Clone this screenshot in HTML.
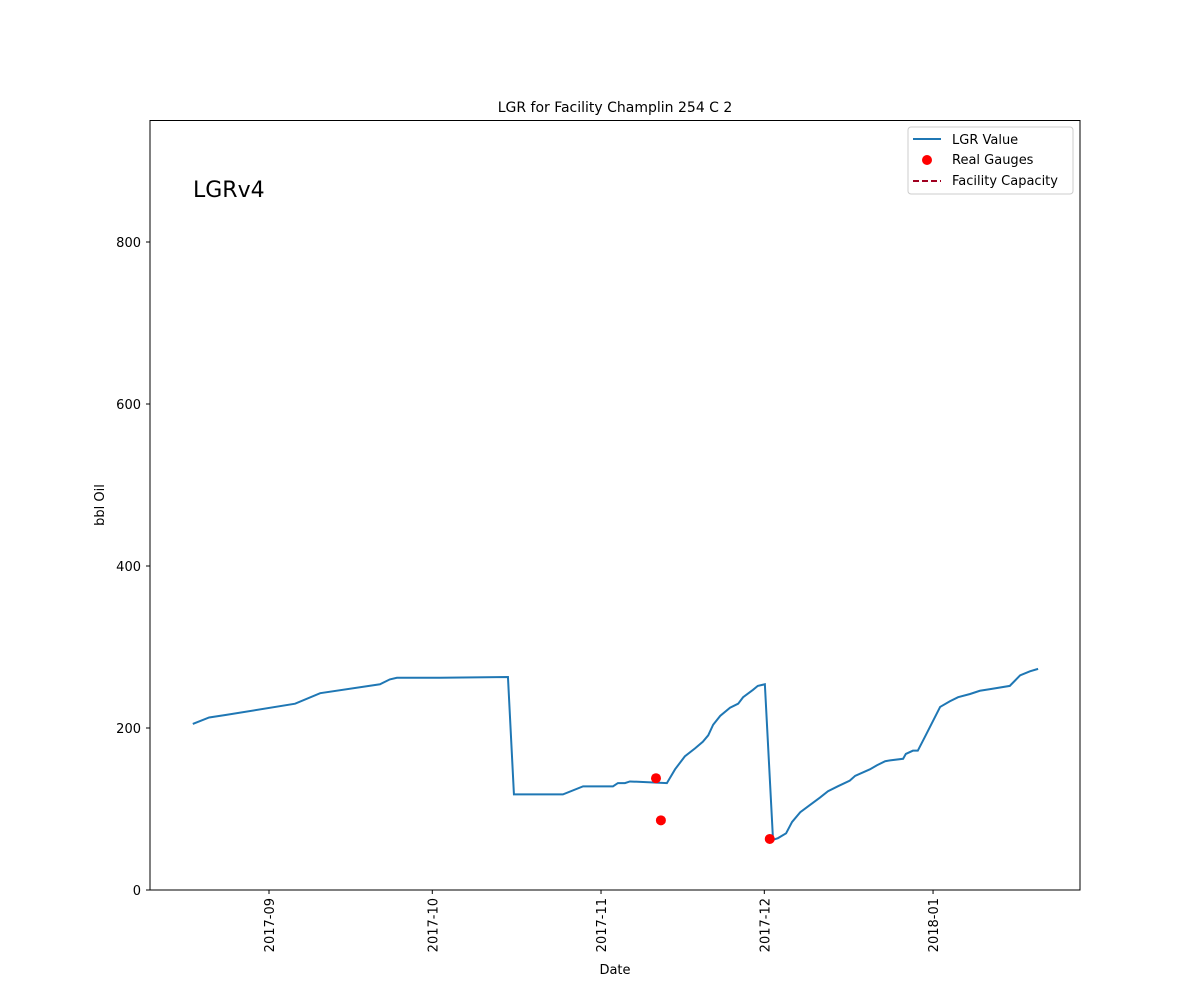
<!DOCTYPE html>
<html><head><meta charset="utf-8"><style>
body{margin:0;background:#fff;}
svg text{font-family:"DejaVu Sans","Liberation Sans",sans-serif;}
</style></head><body>
<svg id="chart" width="1200" height="1000" xmlns="http://www.w3.org/2000/svg">
<rect width="1200" height="1000" fill="#fff"/>
<text x="615" y="112" font-size="14" text-anchor="middle">LGR for Facility Champlin 254 C 2</text>
<text x="193" y="197" font-size="22">LGRv4</text>
<g id="axes"></g>
<g id="marks"></g>
<rect x="150" y="120.5" width="930" height="769.5" fill="none" stroke="#000" stroke-width="1"/>
<text x="615" y="974" font-size="13" text-anchor="middle">Date</text>
<text transform="translate(104,505) rotate(-90)" font-size="13" text-anchor="middle">bbl Oil</text>
<g>
<rect x="908" y="127" width="165" height="67" rx="3" fill="#fff" stroke="#ccc"/>
<line x1="913" y1="139" x2="941" y2="139" stroke="#1f77b4" stroke-width="2"/>
<text x="952" y="144" font-size="13">LGR Value</text>
<circle cx="927" cy="160" r="5" fill="red"/>
<text x="952" y="164" font-size="13">Real Gauges</text>
<line x1="913" y1="181" x2="941" y2="181" stroke="#a00020" stroke-width="2" stroke-dasharray="6,3"/>
<text x="952" y="185" font-size="13">Facility Capacity</text>
</g>
</svg>
<script>
// days since 2017-09-01
const lgrDays=[-14,-11,-8,4.8,9.4,20.4,22.2,23.5,31.4,43.9,45,54,57.7,63.2,64.1,65.4,66.3,73.1,74.6,76.4,78.3,79.7,80.7,81.6,82.9,84.7,86.2,87.1,88.9,89.8,91.1,92.6,93.5,95,96.1,97.6,99.4,101.2,102.7,104.5,106.7,107.7,110.4,111.7,113.2,114.1,116.5,117,118.3,119.2,120.5,123.3,125.1,126.6,128.8,130.6,132.5,136.1,138,139.8,141.3];
const lgrValues=[205,213,216,230,243,254,260,262,262,263,118,118,128,128,132,132,134,132,149,165,175,183,191,204,215,225,230,238,247,252,254,62,64,70,84,96,105,114,122,128,135,141,149,154,159,160,162,168,172,172,189,226,233,238,242,246,248,252,265,270,273];
const gaugeDays=[71.1,72,92];
const gaugeValues=[138,86,63];
const yTicks=[0,200,400,600,800];
const xTickDays=[0,30,61,91,122];
const xTickLabels=["2017-09","2017-10","2017-11","2017-12","2018-01"];
const X=d=>269+d*5.443;
const Y=v=>890-v*0.81;
const NS="http://www.w3.org/2000/svg";
const axes=document.getElementById('axes'),marks=document.getElementById('marks');
function mk(tag,attrs,parent){const e=document.createElementNS(NS,tag);for(const k in attrs)e.setAttribute(k,attrs[k]);parent.appendChild(e);return e;}
yTicks.forEach(v=>{
 const t=mk('line',{x1:146,x2:150,y1:Y(v),y2:Y(v),stroke:'#000'},axes);
 
 
 const l=mk('text',{x:141,y:Y(v)+5,'font-size':13,'text-anchor':'end'},axes);
 l.textContent=v;
 
 
});
xTickDays.forEach((d,i)=>{
 const x=X(d);
 const t=mk('line',{x1:x,x2:x,y1:890,y2:894,stroke:'#000'},axes);
 
 
 const l=mk('text',{transform:`translate(${x+5},898) rotate(-90)`,'font-size':13,'text-anchor':'end'},axes);
 l.textContent=xTickLabels[i];
 
 
});
const p=mk('polyline',{points:lgrDays.map((d,i)=>X(d)+','+Y(lgrValues[i])).join(' '),fill:'none',stroke:'#1f77b4','stroke-width':2},marks);


gaugeDays.forEach((d,i)=>{
 const c=mk('circle',{cx:X(d),cy:Y(gaugeValues[i]),r:5,fill:'red'},marks);
 
 
});
</script>
</body></html>
